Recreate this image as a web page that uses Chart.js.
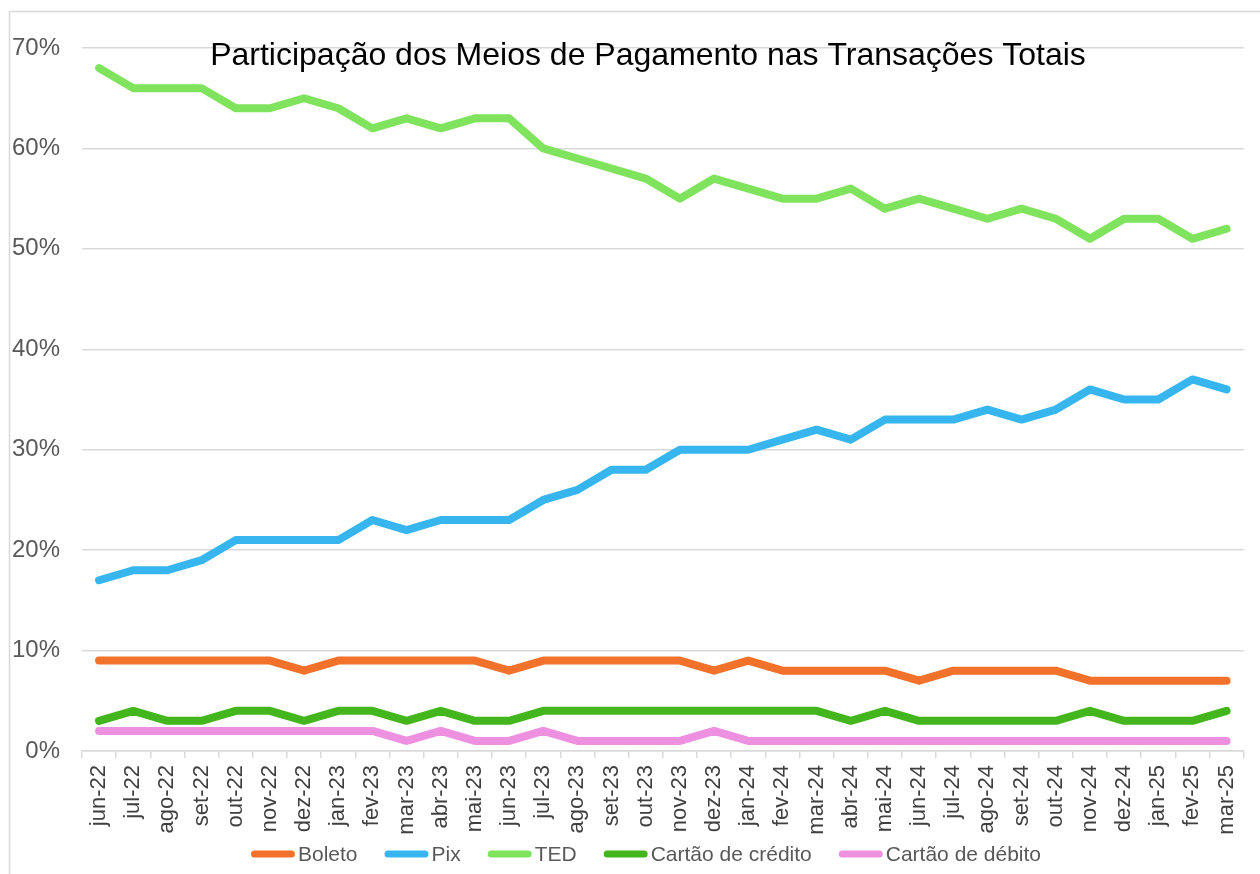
<!DOCTYPE html>
<html>
<head>
<meta charset="utf-8">
<script src="https://cdn.jsdelivr.net/npm/chart.js@4"></script>
<style>
  html, body { margin: 0; padding: 0; background: #fff; }
  #wrap { width: 1260px; height: 874px; position: relative; }
</style>
</head>
<body>
<div id="wrap"><canvas id="meiosChart"></canvas></div>
<script>
const months = ["jun-22","jul-22","ago-22","set-22","out-22","nov-22","dez-22",
  "jan-23","fev-23","mar-23","abr-23","mai-23","jun-23","jul-23","ago-23","set-23","out-23","nov-23","dez-23",
  "jan-24","fev-24","mar-24","abr-24","mai-24","jun-24","jul-24","ago-24","set-24","out-24","nov-24","dez-24",
  "jan-25","fev-25","mar-25"];

// participação (%) de cada meio de pagamento
const boleto  = [9,9,9,9,9,9,8,9,9,9,9,9,8,9,9,9,9,9,8,9,8,8,8,8,7,8,8,8,8,7,7,7,7,7];
const pix     = [17,18,18,19,21,21,21,21,23,22,23,23,23,25,26,28,28,30,30,30,31,32,31,33,33,33,34,33,34,36,35,35,37,36];
const ted     = [68,66,66,66,64,64,65,64,62,63,62,63,63,60,59,58,57,55,57,56,55,55,56,54,55,54,53,54,53,51,53,53,51,52];
const credito = [3,4,3,3,4,4,3,4,4,3,4,3,3,4,4,4,4,4,4,4,4,4,3,4,3,3,3,3,3,4,3,3,3,4];
const debito  = [2,2,2,2,2,2,2,2,2,1,2,1,1,2,1,1,1,1,2,1,1,1,1,1,1,1,1,1,1,1,1,1,1,1];

const yTicks = [0, 10, 20, 30, 40, 50, 60, 70];

const chartTitle = "Participação dos Meios de Pagamento nas Transações Totais";
const gridColor = "#D9D9D9";

function serie(label, data, color) {
  return {
    label: label,
    data: data,
    borderColor: color,
    backgroundColor: color,
    borderWidth: 8,
    borderCapStyle: "round",
    borderJoinStyle: "round",
    pointRadius: 0,
    pointHoverRadius: 0,
    tension: 0,
    fill: false
  };
}

// title overlaid on the plot + outer frame, like the Excel original
const frameAndTitle = {
  id: "frameAndTitle",
  beforeDraw(chart) {
    const c = chart.ctx;
    c.save();
    c.fillStyle = "#fff";
    c.fillRect(0, 0, chart.width, chart.height);
    c.strokeStyle = gridColor;
    c.lineWidth = 1.5;
    c.strokeRect(9.5, 11.5, chart.width + 20, chart.height + 20);
    c.restore();
  },
  afterDraw(chart) {
    const c = chart.ctx;
    c.save();
    c.font = "32px 'Liberation Sans', Arial, sans-serif";
    c.fillStyle = "#000";
    c.textAlign = "center";
    c.textBaseline = "alphabetic";
    c.fillText(chartTitle, 648, 65);
    c.restore();
  }
};

// legend drawn under the month labels: line sample then text, no gap
const bottomLegend = {
  id: "bottomLegend",
  afterDraw(chart) {
    const c = chart.ctx;
    const sample = 44, gap = 3, spacing = 27, y = 854;
    c.save();
    c.font = "21px 'Liberation Sans', Arial, sans-serif";
    const items = chart.data.datasets.map(ds => ({
      label: ds.label, color: ds.borderColor, w: c.measureText(ds.label).width
    }));
    const total = items.reduce((s, it) => s + sample + gap + it.w, 0) + spacing * (items.length - 1);
    let x = 646 - total / 2;
    items.forEach(it => {
      c.strokeStyle = it.color;
      c.lineWidth = 7;
      c.lineCap = "round";
      c.beginPath();
      c.moveTo(x + 3.5, y);
      c.lineTo(x + sample - 3.5, y);
      c.stroke();
      c.fillStyle = "#595959";
      c.textAlign = "left";
      c.textBaseline = "middle";
      c.fillText(it.label, x + sample + gap, y + 1);
      x += sample + gap + it.w + spacing;
    });
    c.restore();
  }
};

new Chart(document.getElementById("meiosChart"), {
  type: "line",
  data: {
    labels: months,
    datasets: [
      serie("Boleto", boleto, "#F2722B"),
      serie("Pix", pix, "#36B5EE"),
      serie("TED", ted, "#7FE35D"),
      serie("Cartão de crédito", credito, "#43B51D"),
      serie("Cartão de débito", debito, "#EE90E0")
    ]
  },
  options: {
    responsive: true,
    maintainAspectRatio: false,
    animation: false,
    events: [],
    layout: { padding: { top: 48, right: 0, bottom: 0, left: 0 } },
    plugins: {
      legend: { display: false },
      title: { display: false },
      tooltip: { enabled: false }
    },
    scales: {
      x: {
        offset: true,
        afterFit: s => { s.height = 123; },
        grid: {
          offset: true,
          drawOnChartArea: false,
          drawTicks: true,
          tickLength: 7,
          color: gridColor,
          lineWidth: 1.5
        },
        border: { display: true, color: gridColor, width: 1.5 },
        ticks: {
          autoSkip: false,
          minRotation: 90,
          maxRotation: 90,
          padding: 7,
          color: "#404040",
          font: { family: "'Liberation Sans', Arial, sans-serif", size: 22 }
        }
      },
      y: {
        min: 0,
        max: 70,
        afterFit: s => { s.width = 82; },
        afterBuildTicks: s => { s.ticks = yTicks.map(v => ({ value: v })); },
        grid: { drawTicks: false, color: gridColor, lineWidth: 1.5 },
        border: { display: false },
        ticks: {
          padding: 22,
          color: "#595959",
          font: { family: "'Liberation Sans', Arial, sans-serif", size: 24 },
          callback: v => v + "%"
        }
      }
    }
  },
  plugins: [frameAndTitle, bottomLegend]
});
</script>
</body>
</html>
